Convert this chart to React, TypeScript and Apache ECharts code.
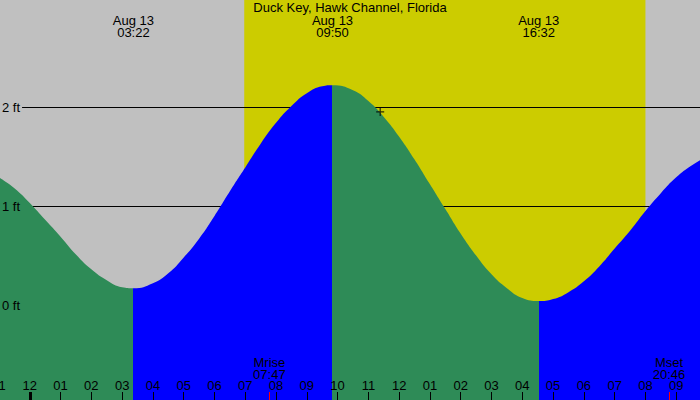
import React, { useEffect, useRef } from 'react';
import * as echarts from 'echarts';

const stationName = 'Duck Key, Hawk Channel, Florida';
const dateLabel = 'Aug 13';

// hours from midnight of Aug 13 (negative = evening before)
const tideHours = [
  -1, -0.5, 0, 0.5, 1, 1.5, 2, 2.5, 3, 3.367,
  4, 4.5, 5, 5.5, 6, 6.5, 7, 7.5, 8, 8.5, 9, 9.5, 9.833,
  10.5, 11, 11.5, 12, 12.5, 13, 13.5, 14, 14.5, 15, 15.5, 16, 16.533,
  17, 17.5, 18, 18.5, 19, 19.5, 20, 20.5, 21, 21.5, 22,
];
const tideFeet = [
  1.29, 1.18, 1.03, 0.86, 0.69, 0.51, 0.36, 0.25, 0.18, 0.17,
  0.22, 0.32, 0.48, 0.67, 0.9, 1.15, 1.39, 1.63, 1.84, 2.01, 2.14, 2.21, 2.22,
  2.17, 2.06, 1.9, 1.7, 1.47, 1.22, 0.97, 0.72, 0.5, 0.31, 0.17, 0.07, 0.04,
  0.06, 0.13, 0.24, 0.39, 0.57, 0.75, 0.95, 1.13, 1.29, 1.41, 1.5,
];

const extremeTimes = ['03:22', '09:50', '16:32'];
const extremeKinds = ['low', 'high', 'low'];

const sunTimes = ['06:58', '20:00'];
const moonNames = ['Mrise', 'Mset'];
const moonTimes = ['07:47', '20:46'];

const nowTime = '11:23';
const nowFeet = 1.95;

const feetLabels = [0, 1, 2];
const feetLines = [1, 2];
const midnightTicks = [0];

const hourMin = -1;
const hourMax = 22;

const NIGHT = '#c0c0c0';
const DAY = '#cccc00';
const FALLING = '#2e8b57';
const RISING = '#0000ff';
const FONT = 'Liberation Sans';

const toHours = (s: string) => {
  const [h, m] = s.split(':').map(Number);
  return h + m / 60;
};

const findIndex = (list: number[], v: number) =>
  list.findIndex((x) => Math.abs(x - v) < 1e-6);

const App: React.FC = () => {
  const chartRef = useRef<HTMLDivElement>(null);

  useEffect(() => {
    if (!chartRef.current) return;
    const chart = echarts.init(chartRef.current, undefined, { renderer: 'svg' });

    const extremeHours = extremeTimes.map(toHours);
    const moonHours = moonTimes.map(toHours);
    const [sunrise, sunset] = sunTimes.map(toHours);

    // falling water green, rising water blue
    const pieces: any[] = [];
    for (let i = 0; i <= extremeHours.length; i++) {
      const piece: any = {};
      if (i > 0) piece.gte = extremeHours[i - 1];
      if (i < extremeHours.length) piece.lt = extremeHours[i];
      const falling =
        i < extremeKinds.length
          ? extremeKinds[i] === 'low'
          : extremeKinds[extremeKinds.length - 1] === 'high';
      piece.color = falling ? FALLING : RISING;
      pieces.push(piece);
    }

    const hourAxis = {
      type: 'value',
      min: hourMin,
      max: hourMax,
      interval: 1,
      axisLine: { show: false, onZero: false },
      splitLine: { show: false },
    };

    const text = { fontFamily: FONT, fontSize: 13, color: '#000' };

    const option: any = {
      animation: false,
      backgroundColor: NIGHT,
      title: {
        text: stationName,
        left: 'center',
        top: 0,
        padding: [1, 0, 0, 0],
        textStyle: { ...text, fontWeight: 'normal' },
      },
      grid: [
        { left: -1, right: -7, top: -91, bottom: -4, containLabel: false, outerBoundsMode: 'none' },
        { left: -1, right: -7, top: 13, height: 1, containLabel: false, outerBoundsMode: 'none' },
      ],
      xAxis: [
        {
          ...hourAxis,
          gridIndex: 0,
          position: 'bottom',
          z: 10,
          axisTick: { inside: true, length: 12, lineStyle: { color: '#000', width: 1 } },
          axisLabel: {
            ...text,
            inside: true,
            margin: 12,
            showMaxLabel: false,
            formatter: (v: number) => {
              const h = ((v % 12) + 12) % 12 || 12;
              return String(h).padStart(2, '0');
            },
          },
        },
        {
          ...hourAxis,
          gridIndex: 0,
          position: 'bottom',
          z: 11,
          axisTick: {
            inside: true,
            length: 12,
            customValues: midnightTicks,
            lineStyle: { color: '#000', width: 3 },
          },
          axisLabel: { show: false },
        },
        {
          ...hourAxis,
          gridIndex: 0,
          position: 'bottom',
          z: 11,
          axisTick: {
            inside: true,
            length: 12,
            customValues: moonHours,
            lineStyle: { color: '#ff0000', width: 1 },
          },
          axisLabel: {
            ...text,
            inside: true,
            margin: 24,
            lineHeight: 12,
            customValues: moonHours,
            formatter: (v: number) => {
              const i = findIndex(moonHours, v);
              return i < 0 ? '' : `${moonNames[i]}\n${moonTimes[i]}`;
            },
          },
        },
        {
          ...hourAxis,
          gridIndex: 1,
          position: 'bottom',
          z: 10,
          axisTick: { show: false },
          axisLabel: {
            ...text,
            margin: 0,
            lineHeight: 12,
            hideOverlap: false,
            customValues: extremeHours,
            formatter: (v: number) => {
              const i = findIndex(extremeHours, v);
              return i < 0 ? '' : `${dateLabel}\n${extremeTimes[i]}`;
            },
          },
        },
      ],
      yAxis: [
        {
          type: 'value',
          gridIndex: 0,
          min: -1,
          max: 4,
          interval: 1,
          z: 10,
          axisLine: { show: false, onZero: false },
          axisTick: { show: false },
          splitLine: { show: false },
          axisLabel: {
            ...text,
            inside: true,
            margin: 0,
            formatter: (v: number) => {
              if (!feetLabels.includes(v)) return '';
              // labels above the water at the left edge hide the grid line behind them
              return tideFeet[0] < v ? `{bg|${v} ft}` : `{plain|${v} ft}`;
            },
            rich: {
              bg: { ...text, backgroundColor: NIGHT, padding: [1, 2, 1, 3] },
              plain: { ...text, padding: [1, 2, 1, 3] },
            },
          },
        },
        { type: 'value', gridIndex: 1, show: false },
      ],
      visualMap: {
        show: false,
        type: 'piecewise',
        seriesIndex: 2,
        dimension: 0,
        pieces,
      },
      series: [
        {
          type: 'line',
          xAxisIndex: 0,
          yAxisIndex: 0,
          data: [],
          z: 0,
          silent: true,
          markArea: {
            silent: true,
            z: 0,
            itemStyle: { color: DAY, opacity: 1 },
            data: [[{ xAxis: sunrise }, { xAxis: sunset }]],
          },
        },
        {
          type: 'line',
          xAxisIndex: 0,
          yAxisIndex: 0,
          data: [],
          z: 1,
          silent: true,
          markLine: {
            silent: true,
            z: 1,
            symbol: ['none', 'none'],
            label: { show: false },
            lineStyle: { color: '#000', width: 1, type: 'solid' },
            data: feetLines.map((v) => ({ yAxis: v })),
          },
        },
        {
          type: 'line',
          xAxisIndex: 0,
          yAxisIndex: 0,
          z: 2,
          smooth: true,
          showSymbol: false,
          silent: true,
          lineStyle: { width: 0 },
          areaStyle: { opacity: 1, origin: 'start' },
          data: tideHours.map((t, i) => [t, tideFeet[i]]),
        },
        {
          type: 'scatter',
          xAxisIndex: 0,
          yAxisIndex: 0,
          z: 3,
          silent: true,
          symbol: 'path://M0,4L8,4M4,0L4,8',
          symbolSize: 8,
          itemStyle: { color: 'rgba(0,0,0,0)', borderColor: '#000', borderWidth: 1.2 },
          data: [[toHours(nowTime), nowFeet]],
        },
      ],
    };

    chart.setOption(option);

    return () => {
      chart.dispose();
    };
  }, []);

  return (
    <div
      ref={chartRef}
      style={{ position: 'absolute', left: 0, top: 0, width: 700, height: 400 }}
    />
  );
};

export default App;
